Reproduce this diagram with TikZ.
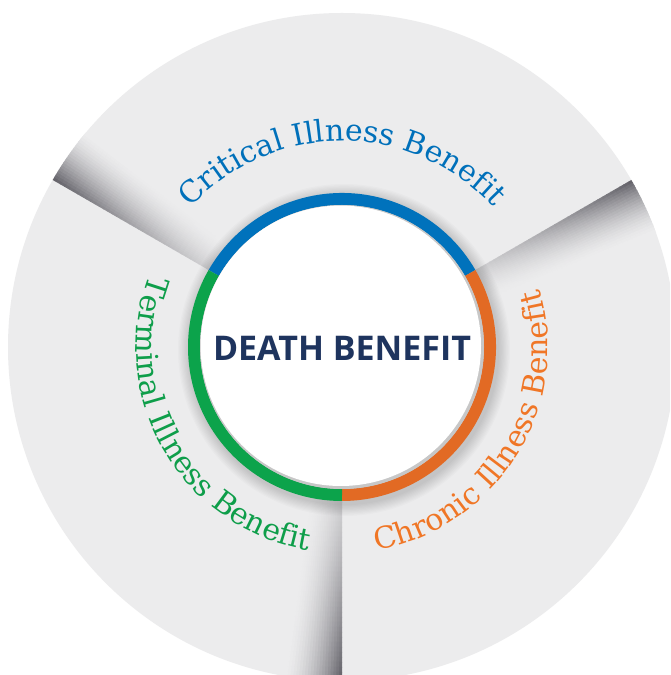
\documentclass[tikz,border=0pt]{standalone}
\usepackage{fontspec}
\usetikzlibrary{decorations.text,calc}
\newfontfamily\arcfont{DejaVu Serif}
\newfontfamily\titlefont{Open Sans}
\definecolor{bg}{RGB}{236,236,237}
\definecolor{shadowc}{RGB}{40,38,48}
\definecolor{cblue}{RGB}{0,114,188}
\definecolor{cgreen}{RGB}{12,163,75}
\definecolor{corange}{RGB}{226,106,36}
\definecolor{tblue}{RGB}{0,112,186}
\definecolor{tgreen}{RGB}{14,158,74}
\definecolor{torange}{RGB}{240,118,38}
\definecolor{navy}{RGB}{30,52,94}
\begin{document}
\begin{tikzpicture}[x=1pt,y=1pt,
  ringarc/.style={line width=12pt},
  arclabel/.style={decorate,decoration={text along path,text align=center,text={#1}}}]
\useasboundingbox (0,0) rectangle (670,675);
\fill[white] (0,0) rectangle (670,675);
\coordinate (C) at (342,328);
\begin{scope}
  \clip (0,0) rectangle (670,675);
  \fill[bg] (C) circle[radius=334pt];
  \begin{scope}
    \clip (C) circle[radius=334pt];
    % folded-paper shadows along the three dividers
    \foreach \a in {150,30,270}{
      \begin{scope}[shift={(C)},rotate=\a]
        \foreach \i in {0,...,37}{
          \pgfmathsetmacro\xa{150+5*\i}
          \pgfmathsetmacro\xb{\xa+5.7}
          \pgfmathsetmacro\Wa{32+(\xa-150)*26/184}
          \pgfmathsetmacro\Wb{32+(\xb-150)*26/184}
          \pgfmathsetmacro\D{14+58*((\xa+2.5-150)/184)^1.3}
          \foreach \j in {0,...,19}{
            \pgfmathsetmacro\ua{\j/20}
            \pgfmathsetmacro\ub{(\j+1)/20+0.015}
            \pgfmathsetmacro\p{\D*(1-(\j+0.5)/20)^1.6}
            \fill[shadowc!\p!bg] (\xa,-\ua*\Wa) -- (\xb,-\ua*\Wb) -- (\xb,-\ub*\Wb) -- (\xa,-\ub*\Wa) -- cycle;
          }
        }
      \end{scope}
    }
  \end{scope}
\end{scope}
% soft drop shadow of the centre disc
\foreach \k in {1,...,10}{
  \fill[black,fill opacity=0.015] ($(C)+(2,-3)$) circle[radius={154+\k*1.2}];
}
% coloured ring
\draw[ringarc,cblue] ($(C)+(150:148pt)$) arc[start angle=150,end angle=30,radius=148pt];
\draw[ringarc,corange] ($(C)+(30:148pt)$) arc[start angle=30,end angle=-90,radius=148pt];
\draw[ringarc,cgreen] ($(C)+(270:148pt)$) arc[start angle=270,end angle=150,radius=148pt];
% white disc
\fill[black!22] (C) circle[radius=142pt];
\fill[white] ($(C)+(-1.2,1.2)$) circle[radius=140.2pt];
\node[font=\titlefont\bfseries\fontsize{34}{40}\selectfont,text=navy] (title) at ($(C)+(0,-1.5)$) {DEATH BENEFIT};
% curved labels
\path[arclabel={|\arcfont\fontsize{30}{36}\selectfont\color{tblue}|Critical Illness Benefit}]
  ($(C)+(150:206pt)$) arc[start angle=150,end angle=30,radius=206pt];
\path[arclabel={|\arcfont\fontsize{30}{36}\selectfont\color{tgreen}|Terminal Illness Benefit}]
  ($(C)+(150:206pt)$) arc[start angle=150,end angle=270,radius=206pt];
\path[arclabel={|\arcfont\fontsize{30}{36}\selectfont\color{torange}|Chronic Illness Benefit}]
  ($(C)+(268:206pt)$) arc[start angle=268,end angle=388,radius=206pt];
\end{tikzpicture}
\end{document}
